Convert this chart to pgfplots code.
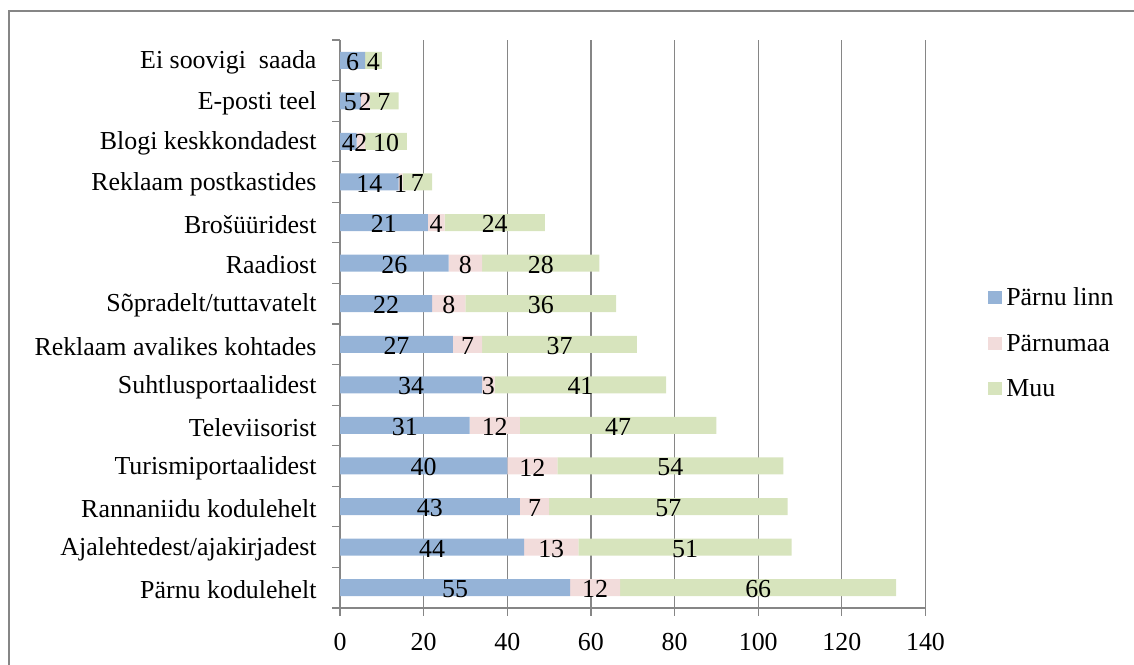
\documentclass[border=0pt]{standalone}
\usepackage{fontspec}
\setmainfont{Liberation Serif}
\newfontfamily\libser{Liberation Serif}
\usepackage{pgfplots}
\usepackage{pgfplotstable}
\pgfplotsset{compat=1.18}
\definecolor{cA}{HTML}{95B3D7}
\definecolor{cB}{HTML}{F2DCDB}
\definecolor{cC}{HTML}{D7E4BD}
\definecolor{axgray}{HTML}{868686}
\pgfplotstableread{
idx a b c
0 55 12 66
1 44 13 51
2 43 7 57
3 40 12 54
4 31 12 47
5 34 3 41
6 27 7 37
7 22 8 36
8 26 8 28
9 21 4 24
10 14 1 7
11 4 2 10
12 5 2 7
13 6 0 4
}\datatab
\newcommand\bigfont{\libser\fontsize{26}{31}\selectfont}
\begin{document}
\begin{tikzpicture}[x=1bp,y=1bp]
\path[use as bounding box] (0,0) rectangle (1134,665);
\begin{scope}
\clip (0,0) rectangle (1134,665);
\draw[axgray, line width=1.5bp] (9,654) rectangle (1160,-30);
\end{scope}
\begin{axis}[
  at={(340bp,57bp)}, anchor=south west,
  scale only axis, width=585.5bp, height=568bp,
  xbar stacked, bar width=17bp,
  xmin=0, xmax=140, ymin=-0.5, ymax=13.5,
  axis lines*=left,
  axis line style={axgray, line width=1.2bp},
  xtick={0,20,...,140},
  xmajorgrids,
  grid style={axgray, line width=1.2bp},
  ytick={-0.5,0.5,...,13.5},
  y tick label as interval,
  yticklabels={P\"arnu kodulehelt, Ajalehtedest/ajakirjadest, Rannaniidu kodulehelt, Turismiportaalidest, Televiisorist, Suhtlusportaalidest, Reklaam avalikes kohtades, S\~opradelt/tuttavatelt, Raadiost, Bro\v{s}\"u\"uridest, Reklaam postkastides, Blogi keskkondadest, E-posti teel, {Ei soovigi\hspace{0.25em} saada}},
  tick align=outside,
  major tick length=8bp,
  tick style={axgray, line width=1.2bp},
  tick label style={font=\bigfont, text=black},
  yticklabel style={xshift=-12bp, yshift=-2bp},
  xticklabel style={yshift=-14bp},
  /pgf/number format/assume math mode=true,
  legend style={draw=none, fill=none, at={(1.106,0.4665)}, anchor=west, font=\bigfont, row sep=25bp, inner sep=0pt, nodes={inner xsep=4.5bp, inner ysep=1bp}},
  legend cell align=left,
  legend image code/.code={\fill[#1] (0bp,-6.5bp) rectangle (14bp,6.5bp);},
  every node near coord/.append style={anchor=center, text=black, font=\bigfont, yshift=-1.5bp},
]
\addplot+[fill=cA, draw=none,
  visualization depends on={\thisrow{a} \as \val},
  nodes near coords={\ifdim\val pt>0pt \pgfmathprintnumber{\val}\fi}]
  table[x=a, y=idx]{\datatab};
\addplot+[fill=cB, draw=none,
  visualization depends on={\thisrow{b} \as \val},
  nodes near coords={\ifdim\val pt>0pt \pgfmathprintnumber{\val}\fi}]
  table[x=b, y=idx]{\datatab};
\addplot+[fill=cC, draw=none,
  visualization depends on={\thisrow{c} \as \val},
  nodes near coords={\ifdim\val pt>0pt \pgfmathprintnumber{\val}\fi}]
  table[x=c, y=idx]{\datatab};
\legend{P\"arnu linn, P\"arnumaa, Muu}
\end{axis}
\end{tikzpicture}
\end{document}
